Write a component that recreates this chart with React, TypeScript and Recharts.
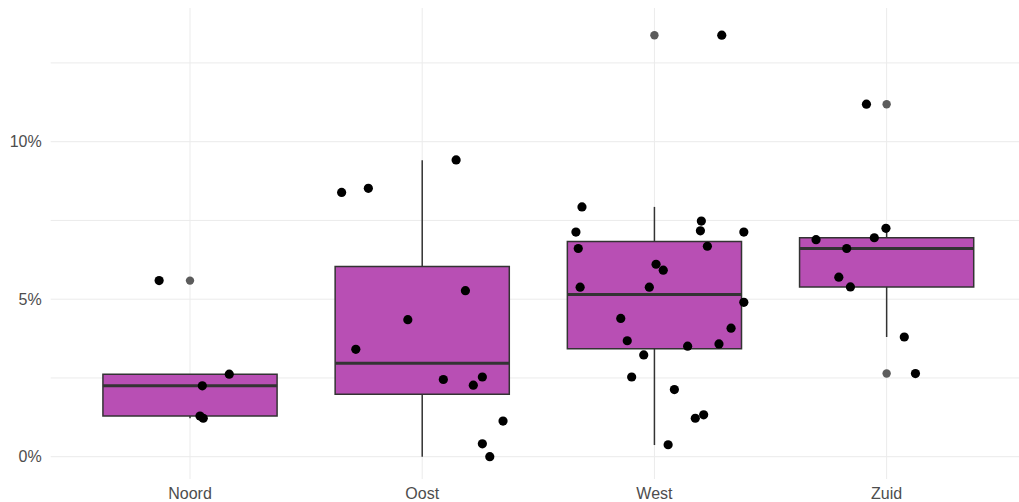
import React from 'react';
import {
  ComposedChart,
  XAxis,
  YAxis,
  CartesianGrid,
  Scatter,
  ReferenceArea,
  ReferenceLine,
} from 'recharts';

// Categories and box statistics (percent)
const categories = ['Noord', 'Oost', 'West', 'Zuid'];
const q1 = [1.29, 1.98, 3.43, 5.39];
const median = [2.25, 2.97, 5.15, 6.61];
const q3 = [2.62, 6.04, 6.83, 6.95];
const whiskerLow = [1.22, 0.0, 0.37, 3.8];
const whiskerHigh = [2.62, 9.41, 7.93, 7.25];

// Outliers drawn by the boxplot layer (category index, value)
const outlierCategory = [0, 2, 3, 3];
const outlierValue = [5.59, 13.38, 11.19, 2.64];

// Jittered observations: x positions (category units) and values (%)
const noordX = [0.867, 1.169, 1.053, 1.043, 1.057];
const noordY = [5.59, 2.62, 2.25, 1.29, 1.22];
const oostX = [1.653, 1.768, 2.146, 2.186, 1.938, 1.714, 2.091, 2.22, 2.259, 2.348, 2.259, 2.291];
const oostY = [8.39, 8.52, 9.42, 5.27, 4.35, 3.41, 2.45, 2.27, 2.53, 1.13, 0.41, 0.0];
const westX = [
  3.29, 2.688, 2.662, 3.202, 3.198, 3.385, 2.672, 3.228, 3.007, 3.038, 2.68, 2.978,
  3.385, 2.855, 3.33, 2.883, 3.143, 3.278, 2.954, 2.902, 3.086, 3.176, 3.212, 3.059,
];
const westY = [
  13.38, 7.93, 7.13, 7.48, 7.17, 7.13, 6.61, 6.68, 6.11, 5.92, 5.38, 5.38,
  4.9, 4.39, 4.08, 3.68, 3.51, 3.58, 3.23, 2.53, 2.13, 1.22, 1.33, 0.38,
];
const zuidX = [3.913, 3.997, 3.947, 3.696, 3.828, 3.794, 3.844, 4.076, 4.124];
const zuidY = [11.19, 7.25, 6.95, 6.89, 6.61, 5.7, 5.39, 3.8, 2.64];

const yTicks = [0, 5, 10];
const yGrid = [0, 2.5, 5, 7.5, 10, 12.5];
const xTicks = [1, 2, 3, 4];

const pointData = [
  ...noordX.map((x, i) => ({ x, y: noordY[i] })),
  ...oostX.map((x, i) => ({ x, y: oostY[i] })),
  ...westX.map((x, i) => ({ x, y: westY[i] })),
  ...zuidX.map((x, i) => ({ x, y: zuidY[i] })),
];
const outlierData = outlierCategory.map((c, i) => ({ x: c + 1, y: outlierValue[i] }));

const BOX_HALF = 0.375;
const FILL = '#B84FB4';
const EDGE = '#333333';
const FONT = { fontFamily: '"Liberation Sans", Arial, sans-serif', fontSize: 16, fill: '#4D4D4D' };

const BlackDot = (props: any) => <circle cx={props.cx} cy={props.cy} r={4.6} fill="#000" />;
const GreyDot = (props: any) => <circle cx={props.cx} cy={props.cy} r={4.2} fill="#5C5C5C" />;

export default function App() {
  return (
    <div style={{ position: 'absolute', left: 0, top: 0 }}>
      <ComposedChart
        width={1019}
        height={510}
        margin={{ top: 8, right: 0, bottom: 8, left: 0 }}
      >
        <CartesianGrid
          stroke="#EBEBEB"
          strokeWidth={1}
          horizontalValues={yGrid}
          verticalValues={xTicks}
        />
        <XAxis
          type="number"
          dataKey="x"
          domain={[0.4, 4.57]}
          ticks={xTicks}
          interval={0}
          allowDataOverflow
          tickFormatter={(v: number) => categories[v - 1]}
          axisLine={false}
          tickLine={false}
          tickSize={0}
          tickMargin={9}
          height={23}
          tick={FONT}
        />
        <YAxis
          type="number"
          dataKey="y"
          domain={[-0.708, 14.244]}
          ticks={yTicks}
          allowDataOverflow
          tickFormatter={(v: number) => `${v}%`}
          axisLine={false}
          tickLine={false}
          tickSize={0}
          tickMargin={9}
          width={50.68}
          tick={FONT}
        />
        {categories.map((c, i) => (
          <ReferenceLine
            key={'wl' + c}
            segment={[
              { x: i + 1, y: whiskerLow[i] },
              { x: i + 1, y: q1[i] },
            ]}
            stroke={EDGE}
            strokeWidth={1.5}
          />
        ))}
        {categories.map((c, i) => (
          <ReferenceLine
            key={'wh' + c}
            segment={[
              { x: i + 1, y: q3[i] },
              { x: i + 1, y: whiskerHigh[i] },
            ]}
            stroke={EDGE}
            strokeWidth={1.5}
          />
        ))}
        {categories.map((c, i) => (
          <ReferenceArea
            key={'box' + c}
            x1={i + 1 - BOX_HALF}
            x2={i + 1 + BOX_HALF}
            y1={q1[i]}
            y2={q3[i]}
            fill={FILL}
            fillOpacity={1}
            stroke={EDGE}
            strokeWidth={1.5}
          />
        ))}
        {categories.map((c, i) => (
          <ReferenceLine
            key={'med' + c}
            segment={[
              { x: i + 1 - BOX_HALF, y: median[i] },
              { x: i + 1 + BOX_HALF, y: median[i] },
            ]}
            stroke={EDGE}
            strokeWidth={3}
          />
        ))}
        <Scatter
          data={outlierData}
          dataKey="y"
          shape={GreyDot}
          isAnimationActive={false}
        />
        <Scatter
          data={pointData}
          dataKey="y"
          shape={BlackDot}
          isAnimationActive={false}
        />
      </ComposedChart>
    </div>
  );
}
